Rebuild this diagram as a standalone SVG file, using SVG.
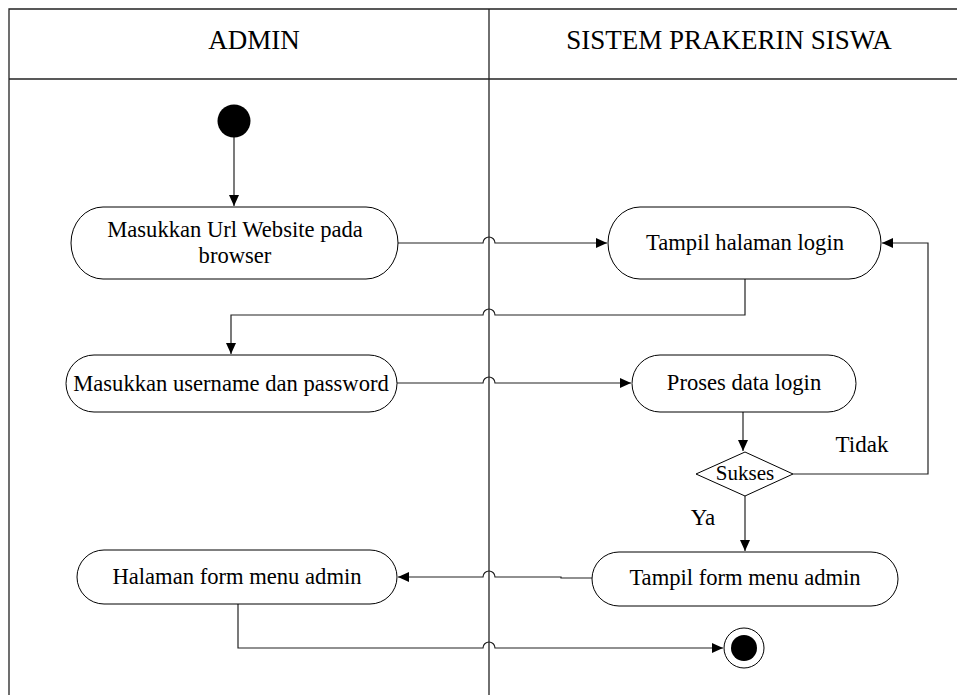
<svg xmlns="http://www.w3.org/2000/svg" width="957" height="695" viewBox="0 0 957 695">
<style>
text{font-family:'Liberation Serif',Tinos,'Times New Roman',Times,serif}
.t{font-size:22.6px;fill:#000;text-anchor:middle}
.h{font-size:27px}
.node{fill:#fff;stroke:#000;stroke-width:1}
.c{fill:none;stroke:#222;stroke-width:1.2}
.frame{fill:none;stroke:#222;stroke-width:1.3}
</style>
<defs>
<marker id="ah" markerWidth="12" markerHeight="12" refX="11" refY="6" orient="auto" markerUnits="userSpaceOnUse">
<path d="M0,1 L11,6 L0,11 Z" fill="#000"/>
</marker>
</defs>
<rect width="957" height="695" fill="#fff"/>
<g id="swimlanes">
<path class="frame" d="M9,695 L9,9 L957,9"/>
<path class="frame" d="M9,79 L957,79"/>
<path class="frame" d="M489,9 L489,695"/>
<text class="t h" x="254" y="49">ADMIN</text>
<text class="t h" x="729" y="49">SISTEM PRAKERIN SISWA</text>
</g>
<g id="connectors">
<path class="c" d="M234,137 L234,206" marker-end="url(#ah)"/>
<path class="c" d="M398,243 L483,243 A6,6 0 0 1 495,243 L607,243" marker-end="url(#ah)"/>
<path class="c" d="M745,279 L745,315 L495,315 A6,6 0 0 0 483,315 L231,315 L231,354" marker-end="url(#ah)"/>
<path class="c" d="M397,383 L483,383 A6,6 0 0 1 495,383 L631,383" marker-end="url(#ah)"/>
<path class="c" d="M743,412 L743,451" marker-end="url(#ah)"/>
<path class="c" d="M793,474 L928,474 L928,243 L882,243" marker-end="url(#ah)"/>
<path class="c" d="M745,496 L745,551" marker-end="url(#ah)"/>
<path class="c" d="M592,578 L561,578 L561,577 L495,577 A6,6 0 0 0 483,577 L398,577" marker-end="url(#ah)"/>
<path class="c" d="M238,604 L238,648 L483,648 A6,6 0 0 1 495,648 L723,648" marker-end="url(#ah)"/>
<text class="t" x="862" y="452" style="font-size:23px">Tidak</text>
<text class="t" x="703" y="525" style="font-size:23px">Ya</text>
</g>
<g id="start">
<circle cx="234" cy="121" r="16.5" fill="#000"/>
</g>
<g id="masukkan-url">
<rect class="node" x="71" y="207" width="327" height="72" rx="32" ry="36"/>
<text class="t" x="235" y="237">Masukkan Url Website pada</text>
<text class="t" x="235" y="263">browser</text>
</g>
<g id="tampil-login">
<rect class="node" x="608" y="207" width="273" height="72" rx="32" ry="36"/>
<text class="t" x="745" y="250">Tampil halaman login</text>
</g>
<g id="masukkan-user">
<rect class="node" x="66" y="355" width="331" height="57" rx="28" ry="28.5"/>
<text class="t" x="231" y="391">Masukkan username dan password</text>
</g>
<g id="proses-login">
<rect class="node" x="632" y="355" width="224" height="57" rx="28" ry="28.5"/>
<text class="t" x="744" y="390">Proses data login</text>
</g>
<g id="sukses">
<polygon class="node" points="745,452 793,474 745,496 696,474"/>
<text class="t" x="745" y="480" style="font-size:21px">Sukses</text>
</g>
<g id="tampil-form">
<rect class="node" x="592" y="552" width="306" height="54" rx="27" ry="27"/>
<text class="t" x="745" y="585">Tampil form menu admin</text>
</g>
<g id="halaman-form">
<rect class="node" x="77" y="550" width="320" height="54" rx="27" ry="27"/>
<text class="t" x="237" y="584">Halaman form menu admin</text>
</g>
<g id="end">
<circle cx="744" cy="648" r="20" fill="#fff" stroke="#000" stroke-width="1"/>
<circle cx="744" cy="648" r="13" fill="#000"/>
</g>
</svg>
